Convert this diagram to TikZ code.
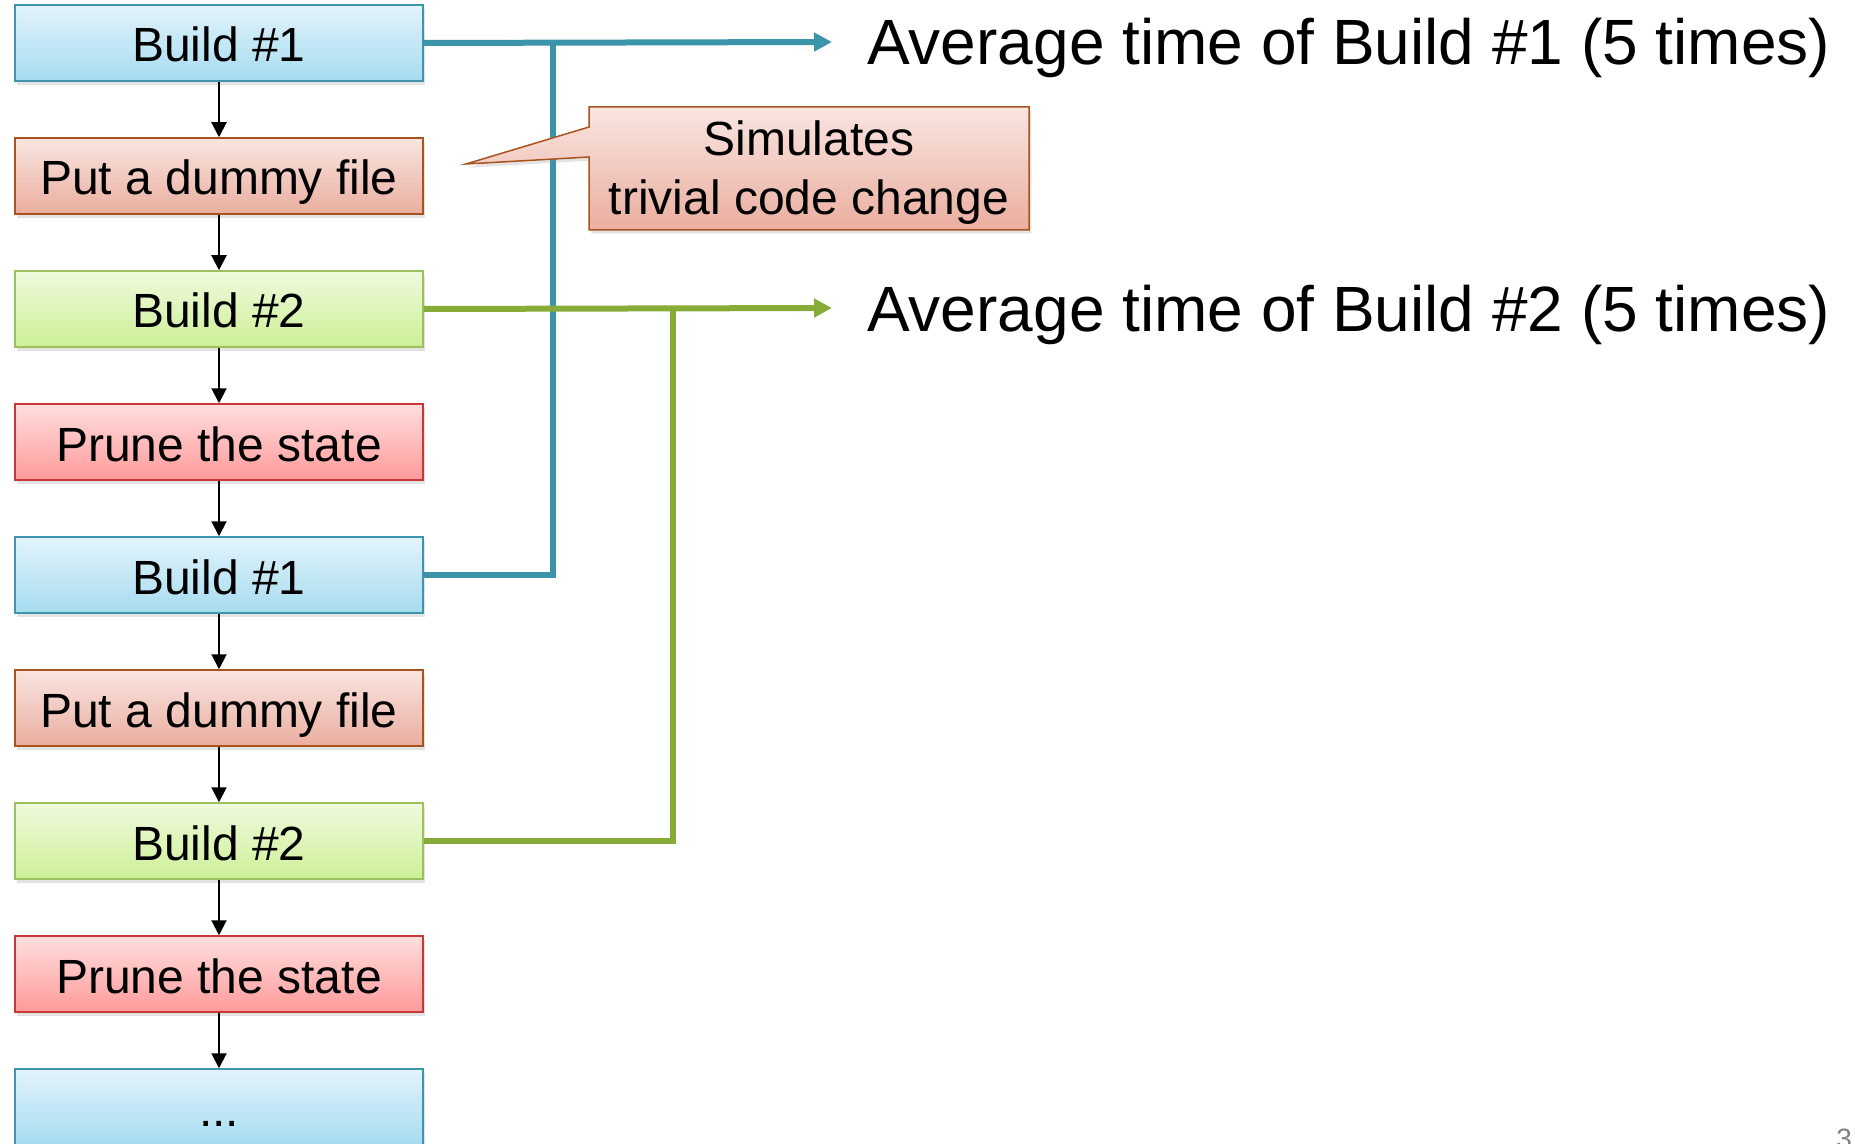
\documentclass[tikz,border=0pt]{standalone}
\usepackage{fontspec}
\setmainfont{Liberation Sans}
\usetikzlibrary{arrows.meta,shadows}

\definecolor{bluedraw}{HTML}{3F95AB}
\definecolor{bluetop}{HTML}{E2F4FB}
\definecolor{bluebot}{HTML}{A6DBF0}
\definecolor{salmondraw}{HTML}{A9531F}
\definecolor{salmontop}{HTML}{F9E5E1}
\definecolor{salmonbot}{HTML}{EAAE9F}
\definecolor{greendraw}{HTML}{9CC15C}
\definecolor{greentop}{HTML}{EFFADD}
\definecolor{greenbot}{HTML}{CDF097}
\definecolor{reddraw}{HTML}{C8373A}
\definecolor{redtop}{HTML}{FFDEDE}
\definecolor{redbot}{HTML}{FF9A9A}
\definecolor{blueline}{HTML}{3C94AA}
\definecolor{greenline}{HTML}{86AC37}

\tikzset{
  stepbox/.style={rectangle, minimum width=204pt, minimum height=38pt, inner sep=0pt,
    text height=19pt, text depth=0pt,
    line width=0.75pt, font=\fontsize{24}{28}\selectfont,
    drop shadow={shadow xshift=1.2pt, shadow yshift=-1.8pt, opacity=0.22}},
  buildone/.style={stepbox, draw=bluedraw, top color=bluetop, bottom color=bluebot},
  dummy/.style={stepbox, draw=salmondraw, top color=salmontop, bottom color=salmonbot},
  buildtwo/.style={stepbox, draw=greendraw, top color=greentop, bottom color=greenbot},
  prune/.style={stepbox, draw=reddraw, top color=redtop, bottom color=redbot},
  flow/.style={line width=1pt, -{Triangle[length=7.5pt,width=7.5pt]}},
  result/.style={line width=3pt, -{Triangle[length=9pt,width=9pt]}},
  avglabel/.style={anchor=base west, inner sep=0pt, font=\fontsize{32}{36}\selectfont}
}

\begin{document}
\begin{tikzpicture}[x=0.5pt, y=-0.5pt]
  \useasboundingbox (0,0) rectangle (1855,1144);

  % the chain of steps
  \node[buildone] (s1) at (219,43)   {Build \#1};
  \node[dummy]    (s2) at (219,176)  {Put a dummy file};
  \node[buildtwo] (s3) at (219,309)  {Build \#2};
  \node[prune]    (s4) at (219,442)  {Prune the state};
  \node[buildone] (s5) at (219,575)  {Build \#1};
  \node[dummy]    (s6) at (219,708)  {Put a dummy file};
  \node[buildtwo] (s7) at (219,841)  {Build \#2};
  \node[prune]    (s8) at (219,974)  {Prune the state};
  \node[buildone] (s9) at (219,1107) {...};

  \foreach \a/\b in {s1/s2,s2/s3,s3/s4,s4/s5,s5/s6,s6/s7,s7/s8,s8/s9}
    \draw[flow] (\a.south) -- (\b.north);

  % averaged results
  \coordinate (t1) at (832,42);
  \coordinate (t2) at (832,308);
  \coordinate (j1) at (553,42);
  \coordinate (j2) at (673,308);
  \node[avglabel] (avg1) at (867,65)  {Average time of Build \#1 (5 times)};
  \node[avglabel] (avg2) at (867,331) {Average time of Build \#2 (5 times)};

  \draw[blueline, line width=3pt] (s5.east) -| (j1);
  \draw[blueline, result] (s1.east) -- (t1);
  \draw[greenline, line width=3pt] (s7.east) -| (j2);
  \draw[greenline, result] (s3.east) -- (t2);

  % callout about the dummy file
  \path[draw=salmondraw, line width=0.75pt, top color=salmontop, bottom color=salmonbot,
        drop shadow={shadow xshift=1.2pt, shadow yshift=-1.8pt, opacity=0.22}]
    (589,107) -- (1029,107) -- (1029,230) -- (589,230) -- (589,157)
    -- (466,164) -- (589,127) -- cycle;
  \node[align=center, inner sep=0pt, font=\fontsize{24}{29.5}\selectfont] (note) at (809,173)
    {Simulates\\trivial code change};

  % page number
  \node[anchor=north west, inner sep=0pt, text=gray, font=\fontsize{14}{16}\selectfont] (pg) at (1836,1129) {3};
\end{tikzpicture}
\end{document}
